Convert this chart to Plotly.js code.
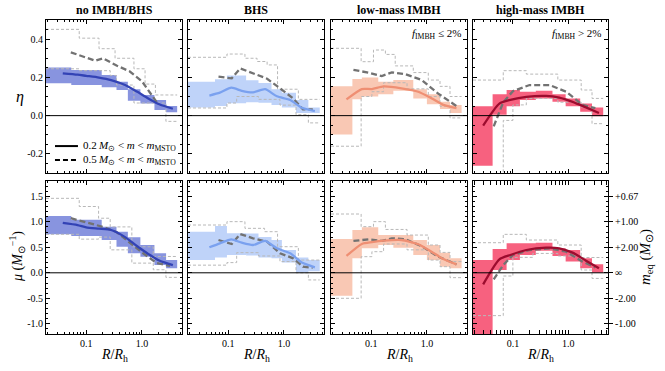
<!DOCTYPE html>
<html>
<head>
<meta charset="utf-8">
<script src="https://cdn.plot.ly/plotly-3.0.1.min.js"></script>
<style>body{margin:0;} #plot{width:665px;height:371px;}</style>
</head>
<body>
<div id="plot"></div>
<script>
// column titles
var panelTitles = ["no IMBH/BHS", "BHS", "low-mass IMBH", "high-mass IMBH"];

// ---- no IMBH/BHS ----
var noBins = [0.019, 0.054, 0.19, 0.35, 0.56, 0.94, 1.68, 2.72, 4.3];
var noEtaLo = [0.169, 0.160, 0.148, 0.134, 0.078, 0.064, 0.029, 0.017];
var noEtaHi = [0.251, 0.239, 0.212, 0.177, 0.138, 0.108, 0.082, 0.050];
var noMuLo = [0.755, 0.72, 0.643, 0.512, 0.382, 0.316, 0.153, 0.088];
var noMuHi = [1.114, 1.04, 0.904, 0.806, 0.696, 0.545, 0.382, 0.251];
var noLineR = [0.038, 0.07, 0.1, 0.17, 0.28, 0.5, 0.8, 1.3, 2.1, 3.6];
var noEtaLine = [0.221, 0.214, 0.208, 0.199, 0.186, 0.16, 0.127, 0.09, 0.058, 0.036];
var noMuLine = [0.98, 0.937, 0.89, 0.865, 0.839, 0.70, 0.53, 0.37, 0.235, 0.15];
var noDashR = [0.053, 0.1, 0.145, 0.2, 0.35, 0.6, 1.0, 1.85, 3.2];
var noEtaDash = [0.331, 0.305, 0.287, 0.30, 0.262, 0.232, 0.18, 0.07, null];
var noMuDash = [1.07, 0.99, 0.935, 0.9, 0.80, 0.59, 0.40, 0.19, 0.135];
var noEtaUpEdges = [0.019, 0.075, 0.17, 0.33, 0.72, 1.14, 1.75, 4.3];
var noEtaUp = [0.451, 0.405, 0.35, 0.30, 0.245, 0.165, 0.108];
var noEtaLowEdges = [0.019, 0.075, 0.27, 0.35, 0.72, 2.7, 4.3];
var noEtaLow = [0.245, 0.235, 0.21, 0.16, 0.066, -0.03];
var noMuUpEdges = [0.019, 0.075, 0.167, 0.27, 0.66, 1.6, 4.3];
var noMuUp = [1.46, 1.30, 1.07, 0.90, 0.51, 0.32];
var noMuLowEdges = [0.019, 0.075, 0.167, 0.27, 0.66, 1.6, 2.7, 4.3];
var noMuLow = [0.755, 0.66, 0.70, 0.45, 0.19, 0.06, -0.09];

// ---- BHS ----
var bhsBins = [0.019, 0.058, 0.095, 0.21, 0.35, 0.60, 0.92, 1.65, 2.75, 4.4];
var bhsEtaLo = [0.043, 0.05, 0.065, 0.07, 0.067, 0.056, 0.043, 0.014, 0.014];
var bhsEtaHi = [0.177, 0.19, 0.21, 0.185, 0.17, 0.138, 0.12, 0.082, 0.043];
var bhsMuLo = [0.25, 0.30, 0.35, 0.34, 0.30, 0.284, 0.20, 0.0, 0.03];
var bhsMuHi = [0.806, 0.918, 0.774, 0.77, 0.70, 0.643, 0.447, 0.30, 0.25];
var bhsLineR = [0.046, 0.071, 0.114, 0.175, 0.28, 0.46, 0.75, 1.3, 2.1, 3.6];
var bhsEtaLine = [0.105, 0.12, 0.146, 0.13, 0.122, 0.138, 0.101, 0.082, 0.041, 0.024];
var bhsMuLine = [0.5, 0.578, 0.655, 0.59, 0.545, 0.624, 0.48, 0.382, 0.2, 0.107];
var bhsDashR = [0.067, 0.116, 0.165, 0.28, 0.5, 0.85, 1.47, 2.2, 3.3];
var bhsEtaDash = [0.204, 0.195, 0.247, 0.221, 0.193, 0.143, 0.09, 0.033, 0.033];
var bhsMuDash = [0.643, 0.565, 0.76, 0.676, 0.61, 0.382, 0.284, 0.12, 0.10];
var bhsEtaUpEdges = [0.019, 0.095, 0.20, 0.33, 0.50, 0.77, 1.82, 4.4];
var bhsEtaUp = [0.305, 0.322, 0.30, 0.283, 0.265, 0.138, 0.085];
var bhsEtaLowEdges = [0.019, 0.095, 0.142, 0.35, 0.85, 1.65, 2.75, 4.4];
var bhsEtaLow = [0.04, 0.066, 0.10, 0.085, 0.055, 0.005, -0.038];
var bhsMuUpEdges = [0.019, 0.095, 0.20, 0.45, 0.77, 1.82, 4.4];
var bhsMuUp = [0.937, 1.003, 0.872, 0.806, 0.512, 0.25];
var bhsMuLowEdges = [0.019, 0.095, 0.142, 0.35, 0.85, 1.65, 2.75, 4.4];
var bhsMuLow = [0.15, 0.2, 0.395, 0.33, 0.22, 0.0, -0.14];

// ---- low-mass IMBH ----
var lowBins = [0.019, 0.046, 0.068, 0.134, 0.25, 0.57, 1.0, 1.72, 2.6, 4.2];
var lowEtaLo = [-0.099, 0.085, 0.10, 0.112, 0.13, 0.09, 0.06, 0.035, 0.014];
var lowEtaHi = [0.153, 0.191, 0.20, 0.177, 0.186, 0.138, 0.112, 0.073, 0.056];
var lowMuLo = [-0.448, 0.284, 0.48, 0.545, 0.493, 0.349, 0.251, 0.12, 0.088];
var lowMuHi = [0.663, 0.839, 0.892, 0.741, 0.741, 0.643, 0.545, 0.395, 0.284];
var lowLineR = [0.036, 0.068, 0.103, 0.167, 0.35, 0.70, 1.23, 1.97, 3.4];
var lowEtaLine = [0.085, 0.139, 0.139, 0.153, 0.143, 0.125, 0.09, 0.056, 0.039];
var lowMuLine = [0.33, 0.565, 0.60, 0.63, 0.643, 0.56, 0.41, 0.27, 0.165];
var lowDashR = [0.048, 0.089, 0.155, 0.235, 0.405, 0.81, 1.6, 3.4];
var lowEtaDash = [0.239, 0.225, 0.207, 0.226, 0.217, 0.186, 0.115, 0.05];
var lowMuDash = [0.624, 0.656, 0.625, 0.676, 0.66, 0.52, 0.316, 0.166];
var lowEtaUpEdges = [0.019, 0.066, 0.11, 0.18, 0.27, 0.57, 1.06, 1.72, 2.6, 4.2];
var lowEtaUp = [0.352, 0.282, 0.343, 0.32, 0.26, 0.225, 0.186, 0.153, 0.10];
var lowEtaLowEdges = [0.019, 0.066, 0.103, 0.167, 0.44, 1.06, 1.72, 2.6, 4.2];
var lowEtaLow = [-0.16, 0.10, 0.125, 0.172, 0.14, 0.10, 0.049, -0.012];
var lowMuUpEdges = [0.019, 0.066, 0.11, 0.18, 0.44, 1.06, 1.72, 2.6, 4.2];
var lowMuUp = [1.153, 0.905, 1.003, 0.85, 0.74, 0.545, 0.40, 0.22];
var lowMuLowEdges = [0.019, 0.066, 0.103, 0.167, 0.44, 1.06, 1.72, 2.6, 4.2];
var lowMuLow = [-0.5, 0.316, 0.414, 0.565, 0.45, 0.25, 0.12, -0.095];

// ---- high-mass IMBH ----
var highBins = [0.019, 0.043, 0.077, 0.134, 0.26, 0.52, 0.90, 1.65, 2.7, 4.3];
var highEtaLo = [-0.262, 0.005, 0.049, 0.082, 0.09, 0.073, 0.049, 0.02, -0.003];
var highEtaHi = [0.049, 0.112, 0.134, 0.125, 0.13, 0.112, 0.09, 0.064, 0.042];
var highMuLo = [-1.3, 0.055, 0.25, 0.35, 0.43, 0.33, 0.22, 0.088, 0.0];
var highMuHi = [0.251, 0.467, 0.578, 0.578, 0.59, 0.48, 0.447, 0.284, 0.166];
var highLineR = [0.029, 0.057, 0.09, 0.175, 0.40, 0.69, 1.2, 2.1, 3.6];
var highEtaLine = [-0.052, 0.063, 0.082, 0.098, 0.103, 0.094, 0.072, 0.043, 0.014];
var highMuLine = [-0.226, 0.264, 0.349, 0.447, 0.493, 0.48, 0.395, 0.238, 0.088];
var highDashR = [0.045, 0.067, 0.10, 0.2, 0.46, 0.92, 1.82, 3.1];
var highEtaDash = [-0.056, 0.07, 0.128, 0.16, 0.16, 0.125, 0.056, 0.039];
var highMuDash = [-0.128, 0.153, 0.349, 0.447, 0.48, 0.414, 0.218, 0.107];
var highEtaUpEdges = [0.019, 0.067, 0.175, 0.65, 1.72, 2.7, 4.3];
var highEtaUp = [0.186, 0.235, 0.217, 0.186, 0.134, 0.09];
var highEtaLowEdges = [0.019, 0.067, 0.10, 0.175, 0.65, 1.72, 2.7, 4.3];
var highEtaLow = [-0.4, -0.025, 0.056, 0.09, 0.07, 0.045, -0.042];
var highMuUpEdges = [0.019, 0.067, 0.175, 0.65, 1.72, 4.3];
var highMuUp = [0.59, 0.754, 0.643, 0.545, 0.30];
var highMuLowEdges = [0.019, 0.067, 0.10, 0.23, 0.65, 1.72, 2.7, 4.3];
var highMuLow = [-0.84, -0.063, 0.303, 0.38, 0.33, 0.055, -0.11];

// tick labels
var xTickVals = [0.1, 1];
var xTickText = ["0.1", "1.0"];
var xMinorVals = [0.02, 0.03, 0.04, 0.05, 0.06, 0.07, 0.08, 0.09, 0.2, 0.3, 0.4, 0.5, 0.6, 0.7, 0.8, 0.9, 2, 3, 4, 5];
var etaTickVals = [-0.2, 0, 0.2, 0.4];
var etaTickText = ["-0.2", "0.0", "0.2", "0.4"];
var muTickVals = [-1, -0.5, 0, 0.5, 1, 1.5];
var muTickText = ["-1.0", "-0.5", "0.0", "0.5", "1.0", "1.5"];
var meqTickVals = [1.5, 1, 0.5, 0, -0.5, -1];
var meqTickText = ["+0.67", "+1.00", "+2.00", "\u221e", "-2.00", "-1.00"];

var bandColors = ["#8894df", "#bfd3f9", "#f9c8b4", "#f7617f"];
var lineColors = ["#3343b5", "#7aa1ef", "#ef8f73", "#9c0c2e"];

var panels = [
  {bins: noBins, lo: noEtaLo, hi: noEtaHi, lineR: noLineR, line: noEtaLine, dashR: noDashR, dash: noEtaDash, upE: noEtaUpEdges, up: noEtaUp, lowE: noEtaLowEdges, low: noEtaLow},
  {bins: bhsBins, lo: bhsEtaLo, hi: bhsEtaHi, lineR: bhsLineR, line: bhsEtaLine, dashR: bhsDashR, dash: bhsEtaDash, upE: bhsEtaUpEdges, up: bhsEtaUp, lowE: bhsEtaLowEdges, low: bhsEtaLow},
  {bins: lowBins, lo: lowEtaLo, hi: lowEtaHi, lineR: lowLineR, line: lowEtaLine, dashR: lowDashR, dash: lowEtaDash, upE: lowEtaUpEdges, up: lowEtaUp, lowE: lowEtaLowEdges, low: lowEtaLow},
  {bins: highBins, lo: highEtaLo, hi: highEtaHi, lineR: highLineR, line: highEtaLine, dashR: highDashR, dash: highEtaDash, upE: highEtaUpEdges, up: highEtaUp, lowE: highEtaLowEdges, low: highEtaLow},
  {bins: noBins, lo: noMuLo, hi: noMuHi, lineR: noLineR, line: noMuLine, dashR: noDashR, dash: noMuDash, upE: noMuUpEdges, up: noMuUp, lowE: noMuLowEdges, low: noMuLow},
  {bins: bhsBins, lo: bhsMuLo, hi: bhsMuHi, lineR: bhsLineR, line: bhsMuLine, dashR: bhsDashR, dash: bhsMuDash, upE: bhsMuUpEdges, up: bhsMuUp, lowE: bhsMuLowEdges, low: bhsMuLow},
  {bins: lowBins, lo: lowMuLo, hi: lowMuHi, lineR: lowLineR, line: lowMuLine, dashR: lowDashR, dash: lowMuDash, upE: lowMuUpEdges, up: lowMuUp, lowE: lowMuLowEdges, low: lowMuLow},
  {bins: highBins, lo: highMuLo, hi: highMuHi, lineR: highLineR, line: highMuLine, dashR: highDashR, dash: highMuDash, upE: highMuUpEdges, up: highMuUp, lowE: highMuLowEdges, low: highMuLow}
];

// one filled box per radial bin, gaps between boxes
function binBoxes(edges, lo, hi) {
  var x = [], y = [];
  for (var i = 0; i < lo.length; i++) {
    x.push(edges[i], edges[i + 1], edges[i + 1], edges[i], edges[i], null);
    y.push(lo[i], lo[i], hi[i], hi[i], lo[i], null);
  }
  return {x: x, y: y};
}

var W = 665, H = 371;
var xPix = [[46, 182], [188, 324], [331, 467], [473, 608]];
var yPix = [[20, 173], [181, 334]];
var serif = "'Liberation Serif', 'Times New Roman', Times, serif";

var data = [];
var layout = {
  width: W, height: H,
  margin: {l: 0, r: 0, t: 0, b: 0},
  showlegend: false,
  paper_bgcolor: "white", plot_bgcolor: "white",
  font: {family: serif, size: 10, color: "black"},
  shapes: [], annotations: []
};

panels.forEach(function(p, k) {
  var row = k < 4 ? 0 : 1, col = k % 4, n = k + 1;
  var xa = n == 1 ? "x" : "x" + n, ya = n == 1 ? "y" : "y" + n;
  var box = binBoxes(p.bins, p.lo, p.hi);

  data.push({x: box.x, y: box.y, xaxis: xa, yaxis: ya, mode: "lines", fill: "toself",
    fillcolor: bandColors[col], line: {width: 0}, hoverinfo: "skip"});
  data.push({x: p.upE, y: p.up.concat([p.up[p.up.length - 1]]), xaxis: xa, yaxis: ya, mode: "lines",
    line: {shape: "hv", color: "#b8b8b8", width: 1, dash: "3px,2px"}, hoverinfo: "skip"});
  data.push({x: p.lowE, y: p.low.concat([p.low[p.low.length - 1]]), xaxis: xa, yaxis: ya, mode: "lines",
    line: {shape: "hv", color: "#b8b8b8", width: 1, dash: "3px,2px"}, hoverinfo: "skip"});
  data.push({x: p.dashR, y: p.dash, xaxis: xa, yaxis: ya, mode: "lines",
    line: {color: "#727272", width: 2.3, dash: "6px,3px"}});
  data.push({x: p.lineR, y: p.line, xaxis: xa, yaxis: ya, mode: "lines",
    line: {color: lineColors[col], width: 2.3, shape: "spline", smoothing: 0.6}});

  layout[n == 1 ? "xaxis" : "xaxis" + n] = {
    domain: [xPix[col][0] / W, xPix[col][1] / W], anchor: ya,
    type: "log", range: [Math.log10(0.019), Math.log10(5.25)],
    tickmode: "array", tickvals: xTickVals, ticktext: xTickText, showticklabels: row == 1,
    ticks: "inside", ticklen: 4, tickcolor: "black",
    minor: {tickmode: "array", tickvals: xMinorVals, ticks: "inside", ticklen: 2, tickcolor: "black"},
    showline: true, linecolor: "black", linewidth: 1, mirror: "allticks",
    showgrid: false, zeroline: false, fixedrange: true,
    tickfont: {family: serif, size: 10}
  };
  var minorY = [];
  var step = row == 0 ? 0.05 : 0.1, y0 = row == 0 ? -0.3 : -1.2, y1 = row == 0 ? 0.5 : 1.8;
  for (var t = y0; t <= y1 + 1e-9; t += step) minorY.push(Math.round(t * 100) / 100);
  layout[n == 1 ? "yaxis" : "yaxis" + n] = {
    domain: [1 - yPix[row][1] / H, 1 - yPix[row][0] / H], anchor: xa,
    range: [y0, y1],
    tickmode: "array",
    tickvals: row == 0 ? etaTickVals : muTickVals,
    ticktext: row == 0 ? etaTickText : muTickText,
    showticklabels: col == 0,
    ticks: "inside", ticklen: 4, tickcolor: "black",
    minor: {tickmode: "array", tickvals: minorY, ticks: "inside", ticklen: 2, tickcolor: "black"},
    showline: true, linecolor: "black", linewidth: 1, mirror: "allticks",
    showgrid: false, zeroline: false, fixedrange: true,
    tickfont: {family: serif, size: 10}
  };

  // zero reference line
  layout.shapes.push({type: "line", xref: xa + " domain", yref: ya, x0: 0, x1: 1, y0: 0, y1: 0,
    line: {color: "black", width: 1}});

  if (row == 0) {
    layout.annotations.push({xref: xa + " domain", yref: ya + " domain", x: 0.5, y: 1, xanchor: "center",
      yanchor: "bottom", yshift: 1, showarrow: false, text: "<b>" + panelTitles[col] + "</b>",
      font: {family: serif, size: 12}});
  } else {
    layout.annotations.push({xref: xa + " domain", yref: "paper", x: 0.5, y: 1 - 355 / H,
      xanchor: "center", yanchor: "middle", showarrow: false,
      text: "<i>R</i>/<i>R</i><sub>h</sub>", font: {family: serif, size: 14}});
  }
});

// right-hand m_eq axis on the last panel
data.push({x: [], y: [], xaxis: "x8", yaxis: "y9", mode: "lines", hoverinfo: "skip"});
layout.yaxis9 = {
  overlaying: "y8", anchor: "x8", side: "right", range: [-1.2, 1.8],
  tickmode: "array", tickvals: meqTickVals, ticktext: meqTickText,
  ticks: "outside", ticklen: 4, tickcolor: "black",
  showline: false, showgrid: false, zeroline: false, fixedrange: true,
  tickfont: {family: serif, size: 10}
};

// f_IMBH labels
layout.annotations.push({xref: "x3 domain", yref: "y3 domain", x: 0.97, y: 0.91, xanchor: "right",
  yanchor: "middle", showarrow: false, text: "<i>f</i><sub>IMBH</sub> \u2264 2%", font: {family: serif, size: 11}});
layout.annotations.push({xref: "x4 domain", yref: "y4 domain", x: 0.97, y: 0.91, xanchor: "right",
  yanchor: "middle", showarrow: false, text: "<i>f</i><sub>IMBH</sub> &gt; 2%", font: {family: serif, size: 11}});

// axis titles
layout.annotations.push({xref: "paper", yref: "paper", x: 20 / W, y: 1 - 97 / H, xanchor: "center",
  yanchor: "middle", showarrow: false, text: "<i>\u03b7</i>", font: {family: serif, size: 16}});
layout.annotations.push({xref: "paper", yref: "paper", x: 17 / W, y: 1 - 257 / H, xanchor: "center",
  yanchor: "middle", showarrow: false, textangle: -90,
  text: "<i>\u03bc</i> (<i>M</i><sub>\u2299</sub><sup>\u22121</sup>)", font: {family: serif, size: 14}});
layout.annotations.push({xref: "paper", yref: "paper", x: 646 / W, y: 1 - 257 / H, xanchor: "center",
  yanchor: "middle", showarrow: false, textangle: -90,
  text: "<i>m</i><sub>eq</sub> (<i>M</i><sub>\u2299</sub>)", font: {family: serif, size: 15}});

// legend in first panel
layout.shapes.push({type: "line", xref: "x domain", yref: "y domain", x0: 0.066, x1: 0.235, y0: 0.176, y1: 0.176,
  line: {color: "black", width: 2}});
layout.shapes.push({type: "line", xref: "x domain", yref: "y domain", x0: 0.066, x1: 0.235, y0: 0.085, y1: 0.085,
  line: {color: "black", width: 2, dash: "5px,3px"}});
layout.annotations.push({xref: "x domain", yref: "y domain", x: 0.26, y: 0.176, xanchor: "left", yanchor: "middle",
  showarrow: false, text: "0.2\u2009<i>M</i><sub>\u2299</sub> &lt; <i>m</i> &lt; <i>m</i><sub>MSTO</sub>",
  font: {family: serif, size: 11}});
layout.annotations.push({xref: "x domain", yref: "y domain", x: 0.26, y: 0.085, xanchor: "left", yanchor: "middle",
  showarrow: false, text: "0.5\u2009<i>M</i><sub>\u2299</sub> &lt; <i>m</i> &lt; <i>m</i><sub>MSTO</sub>",
  font: {family: serif, size: 11}});

Plotly.newPlot("plot", data, layout, {displayModeBar: false, staticPlot: true});
</script>
</body>
</html>
